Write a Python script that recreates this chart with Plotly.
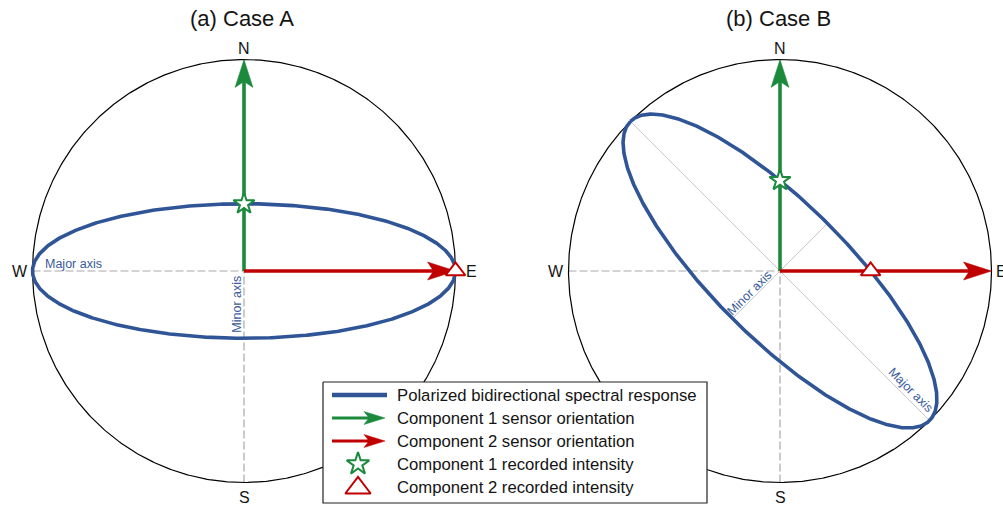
import numpy as np
import plotly.graph_objects as go

# ---------------------------------------------------------------- data
panel_titles = ["(a) Case A", "(b) Case B"]
major_axis = [1.0, 1.0]            # semi-major axis (compass circle radius = 1)
minor_axis = [0.318, 0.318]        # semi-minor axis
major_azimuth = [0.0, 135.0]       # major-axis direction, degrees CCW from east
sensor_azimuth = [90.0, 0.0]       # component 1 -> north, component 2 -> east
compass_labels = ["N", "E", "S", "W"]
legend_labels = [
    "Polarized bidirectional spectral response",
    "Component 1 sensor orientation",
    "Component 2 sensor orientation",
    "Component 1 recorded intensity",
    "Component 2 recorded intensity",
]

# ---------------------------------------------------------------- style
FONT = "Liberation Sans, Arial, Helvetica, sans-serif"
BLUE = "#2f5597"
LABEL_BLUE = "#3a5b9a"
GREEN = "#1b8a3c"
RED = "#c00000"
GRID = "#a9a9a9"
AXIS_LINE = "#c8c8c8"
TEXT = "#141414"

W, H = 1003, 505
S = 211.5                     # pixels per unit radius
CX = [244.0, 780.0]           # panel centres (px from left)
CY = 271.0                    # panel centre (px from top)
DOMAINS = [(0.0, 0.5), (0.5, 1.0)]

fig = go.Figure()


def ellipse_radius(a, b, theta_deg, phi_deg):
    """Distance from centre to the ellipse along azimuth phi."""
    d = np.radians(phi_deg - theta_deg)
    return 1.0 / np.sqrt(np.cos(d) ** 2 / a ** 2 + np.sin(d) ** 2 / b ** 2)


def head_polygon(tip, d, length, width, notch):
    d = np.asarray(d, float)
    n = np.array([-d[1], d[0]])
    tip = np.asarray(tip, float)
    back = tip - length * d
    pts = [tip, back + width / 2 * n, tip - (length - notch) * d, back - width / 2 * n, tip]
    return [p[0] for p in pts], [p[1] for p in pts]


def add_arrow(xr, yr, start, tip, color, shaft_w, length, width, notch, scale):
    start = np.asarray(start, float)
    tip = np.asarray(tip, float)
    d = (tip - start) / np.linalg.norm(tip - start)
    shaft_end = tip - (length - notch - 1.0) / scale * d
    fig.add_trace(go.Scatter(x=[start[0], shaft_end[0]], y=[start[1], shaft_end[1]],
                             mode="lines", line=dict(color=color, width=shaft_w),
                             xaxis=xr, yaxis=yr, hoverinfo="skip"))
    hx, hy = head_polygon(tip, d, length / scale, width / scale, notch / scale)
    fig.add_trace(go.Scatter(x=hx, y=hy, mode="lines", fill="toself", fillcolor=color,
                             line=dict(color=color, width=0.5),
                             xaxis=xr, yaxis=yr, hoverinfo="skip"))


t = np.linspace(0, 2 * np.pi, 721)
annotations = []

for i in range(2):
    xr = "x" if i == 0 else "x2"
    yr = "y" if i == 0 else "y2"
    a, b, th = major_axis[i], minor_axis[i], major_azimuth[i]
    thr = np.radians(th)
    u = np.array([np.cos(thr), np.sin(thr)])       # major-axis direction
    v = np.array([-np.sin(thr), np.cos(thr)])      # minor-axis direction

    # dashed N-S and W-E reference lines
    for xs, ys in (([-1, 1], [0, 0]), ([0, 0], [-1, 1])):
        fig.add_trace(go.Scatter(x=xs, y=ys, mode="lines",
                                 line=dict(color=GRID, width=1.2, dash="8px,3px"),
                                 xaxis=xr, yaxis=yr, hoverinfo="skip"))
    # thin major / minor axis lines for a rotated ellipse
    if abs(np.sin(thr)) > 1e-6:
        for vec, length in ((u, a), (v, b)):
            fig.add_trace(go.Scatter(x=[-length * vec[0], length * vec[0]],
                                     y=[-length * vec[1], length * vec[1]],
                                     mode="lines", line=dict(color=AXIS_LINE, width=1),
                                     xaxis=xr, yaxis=yr, hoverinfo="skip"))

    # compass circle
    fig.add_trace(go.Scatter(x=np.cos(t), y=np.sin(t), mode="lines",
                             line=dict(color="black", width=1.2),
                             xaxis=xr, yaxis=yr, hoverinfo="skip"))

    # polarization ellipse
    ex = a * np.cos(t) * u[0] + b * np.sin(t) * v[0]
    ey = a * np.cos(t) * u[1] + b * np.sin(t) * v[1]
    fig.add_trace(go.Scatter(x=ex, y=ey, mode="lines", line=dict(color=BLUE, width=3.6),
                             xaxis=xr, yaxis=yr, hoverinfo="skip"))

    # sensor orientation arrows (to the compass circle)
    for az, col in zip(sensor_azimuth, [GREEN, RED]):
        r = np.radians(az)
        add_arrow(xr, yr, (0, 0), (np.cos(r), np.sin(r)), col, 3.6, 28, 18, 6, S)

    # recorded intensities: where each sensor axis meets the ellipse
    for az, sym, col, size in ((sensor_azimuth[0], "star", GREEN, 16),
                               (sensor_azimuth[1], "triangle-up", RED, 17)):
        rr = ellipse_radius(a, b, th, az)
        r = np.radians(az)
        fig.add_trace(go.Scatter(x=[rr * np.cos(r)], y=[rr * np.sin(r)], mode="markers",
                                 marker=dict(symbol=sym, size=size, color="white",
                                             line=dict(color=col, width=2)),
                                 xaxis=xr, yaxis=yr, hoverinfo="skip"))

    # titles and compass letters
    annotations.append(dict(text=panel_titles[i], x=-2 / S, y=(CY - 18) / S,
                            xref=xr, yref=yr, showarrow=False,
                            font=dict(family=FONT, size=22, color=TEXT)))
    annotations.append(dict(text=compass_labels[0], x=0, y=1 + 11 / S, xref=xr, yref=yr,
                            showarrow=False, font=dict(family=FONT, size=16, color=TEXT)))
    annotations.append(dict(text=compass_labels[2], x=0, y=-1 - 15 / S, xref=xr, yref=yr,
                            showarrow=False, font=dict(family=FONT, size=16, color=TEXT)))
    annotations.append(dict(text=compass_labels[3], x=-1 - 13 / S, y=0, xref=xr, yref=yr,
                            showarrow=False, font=dict(family=FONT, size=16, color=TEXT)))
    annotations.append(dict(text=compass_labels[1], x=1, y=0, xref=xr, yref=yr,
                            xanchor="left", xshift=(8 if i == 0 else 2),
                            showarrow=False, font=dict(family=FONT, size=16, color=TEXT)))

    # axis labels
    lab_font = dict(family=FONT, size=12.5, color=LABEL_BLUE)
    if i == 0:
        annotations.append(dict(text="Major axis", x=-a + 10 / S, y=0, xref=xr, yref=yr,
                                xanchor="left", yanchor="bottom", yshift=-2,
                                showarrow=False, font=lab_font))
        annotations.append(dict(text="Minor axis", x=-7 / S, y=-b * 0.5, xref=xr, yref=yr,
                                textangle=-90, showarrow=False, font=lab_font))
    else:
        # along the lower-left half of the minor axis, and lower-right half of the major axis
        p = 0.55 * b * v + 6 / S * u
        annotations.append(dict(text="Minor axis", x=p[0], y=p[1], xref=xr, yref=yr,
                                textangle=-45, showarrow=False, font=lab_font))
        p = -0.835 * a * u + 8 / S * (-v)
        annotations.append(dict(text="Major axis", x=p[0], y=p[1], xref=xr, yref=yr,
                                textangle=45, showarrow=False, font=lab_font))

# ---------------------------------------------------------------- legend (pixel axes)
LX0, LX1, LY0, LY1 = 323, 707, 382, 503
rows = [395, 418, 441, 464, 487]
gx = 358
fig.add_trace(go.Scatter(x=[LX0, LX1, LX1, LX0, LX0], y=[LY0, LY0, LY1, LY1, LY0],
                         mode="lines", fill="toself", fillcolor="white",
                         line=dict(color="#222222", width=1.2),
                         xaxis="x3", yaxis="y3", hoverinfo="skip"))
fig.add_trace(go.Scatter(x=[332, 387], y=[rows[0], rows[0]], mode="lines",
                         line=dict(color=BLUE, width=4.5), xaxis="x3", yaxis="y3",
                         hoverinfo="skip"))
for row, col in ((rows[1], GREEN), (rows[2], RED)):
    add_arrow("x3", "y3", (332, row), (385, row), col, 3, 21, 13, 5, 1.0)
fig.add_trace(go.Scatter(x=[gx], y=[rows[3]], mode="markers",
                         marker=dict(symbol="star", size=17, color="white",
                                     line=dict(color=GREEN, width=2)),
                         xaxis="x3", yaxis="y3", hoverinfo="skip"))
fig.add_trace(go.Scatter(x=[gx], y=[rows[4] + 1], mode="markers",
                         marker=dict(symbol="triangle-up", size=22, color="white",
                                     line=dict(color=RED, width=2)),
                         xaxis="x3", yaxis="y3", hoverinfo="skip"))
for row, lab in zip(rows, legend_labels):
    annotations.append(dict(text=lab, x=395, y=row, xref="x3", yref="y3", xanchor="left",
                            showarrow=False, font=dict(family=FONT, size=16.7, color=TEXT)))

# ---------------------------------------------------------------- layout
hidden = dict(visible=False, showgrid=False, zeroline=False, fixedrange=True)
layout = dict(
    width=W, height=H, margin=dict(l=0, r=0, t=0, b=0),
    paper_bgcolor="white", plot_bgcolor="rgba(0,0,0,0)",
    showlegend=False, annotations=annotations,
    xaxis3=dict(domain=[0, 1], range=[0, W], anchor="y3", **hidden),
    yaxis3=dict(domain=[0, 1], range=[H, 0], anchor="x3", **hidden),
)
for i in range(2):
    d0, d1 = DOMAINS[i]
    xkey = "xaxis" if i == 0 else "xaxis2"
    ykey = "yaxis" if i == 0 else "yaxis2"
    layout[xkey] = dict(domain=[d0, d1], anchor="y" if i == 0 else "y2",
                        range=[(d0 * W - CX[i]) / S, (d1 * W - CX[i]) / S], **hidden)
    layout[ykey] = dict(domain=[0, 1], anchor="x" if i == 0 else "x2",
                        range=[-(H - CY) / S, CY / S], **hidden)
fig.update_layout(**layout)

fig.write_html("out.html")
